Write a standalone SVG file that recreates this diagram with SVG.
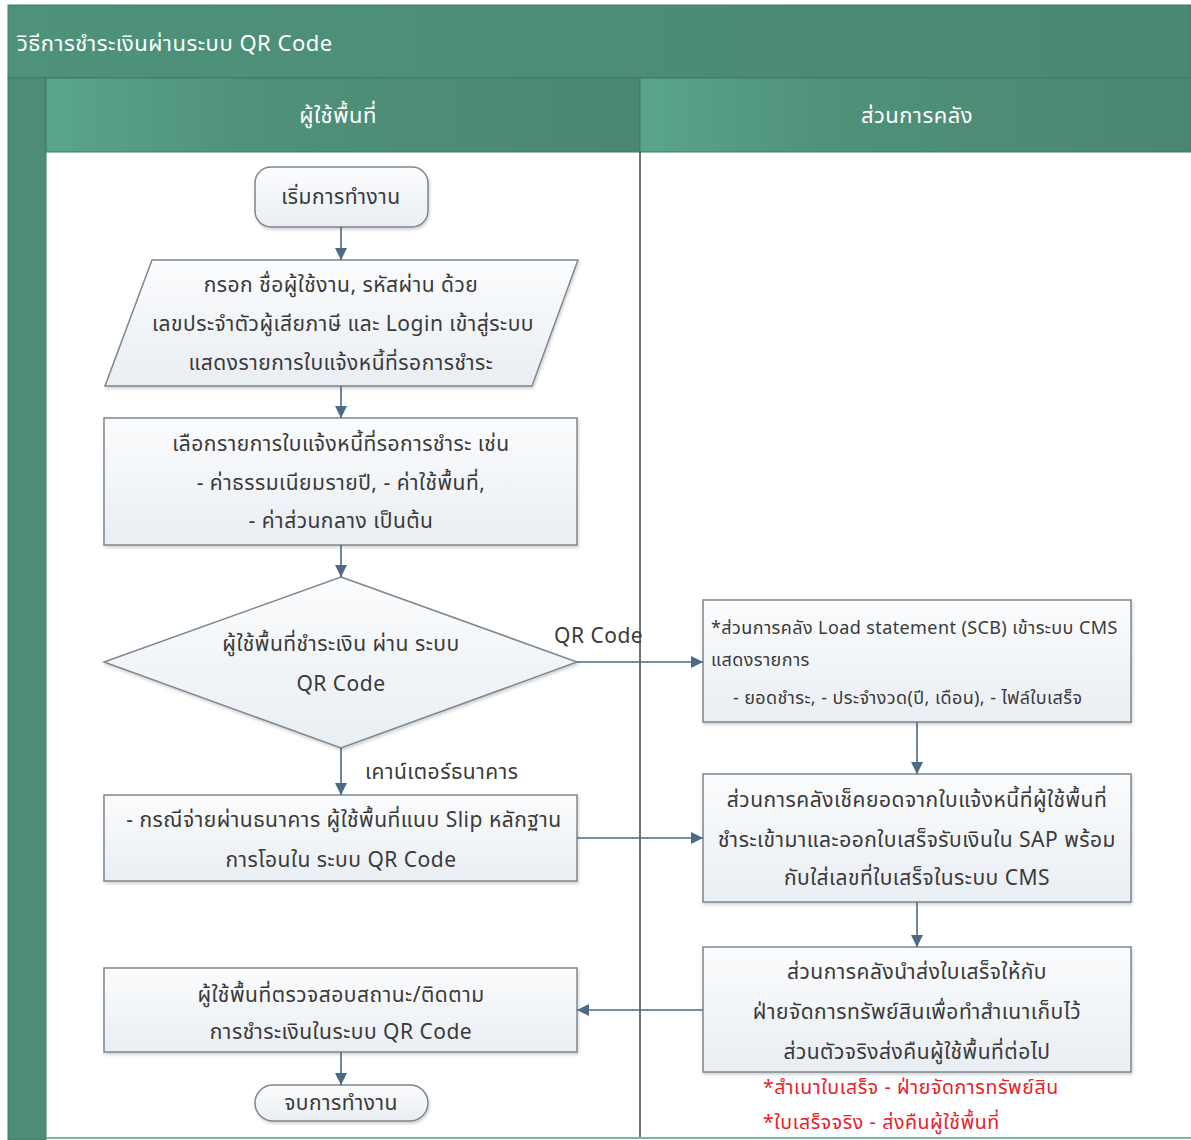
<svg xmlns="http://www.w3.org/2000/svg" width="1191" height="1140" viewBox="0 0 1191 1140">
<defs>
  <linearGradient id="hdr" x1="0" y1="0" x2="1" y2="0">
    <stop offset="0" stop-color="#5aa58b"/>
    <stop offset="0.35" stop-color="#4f9179"/>
    <stop offset="1" stop-color="#4a8771"/>
  </linearGradient>
  <linearGradient id="title" x1="0" y1="0" x2="1" y2="0">
    <stop offset="0" stop-color="#4e927a"/>
    <stop offset="1" stop-color="#4a8872"/>
  </linearGradient>
  <linearGradient id="nodefill" x1="0" y1="0" x2="0" y2="1">
    <stop offset="0" stop-color="#fbfcfd"/>
    <stop offset="1" stop-color="#e9eef3"/>
  </linearGradient>
  <filter id="sh" x="-5%" y="-5%" width="110%" height="115%">
    <feDropShadow dx="1" dy="2" stdDeviation="1.5" flood-color="#000" flood-opacity="0.18"/>
  </filter>
  <marker id="arr" viewBox="0 0 10 10" refX="10" refY="5" markerWidth="12" markerHeight="12" markerUnits="userSpaceOnUse" orient="auto">
    <path d="M0,0 L10,5 L0,10 z" fill="#4a6a85"/>
  </marker>
</defs>
<style>
  .t { font-family: "Noto Sans Thai", "Leelawadee UI", Tahoma, "Noto Sans", "DejaVu Sans", sans-serif; font-size: 21px; letter-spacing: 0.5px; fill: #3a3a3a; }
  .c { text-anchor: middle; }
  .w { fill: #ffffff; font-size: 22px; }
  .s { font-size: 18px; letter-spacing: 0.4px; }
  .red { fill: #e8202a; font-size: 19.5px; letter-spacing: 0.6px; }
  .node { fill: url(#nodefill); stroke: #7c8790; stroke-width: 1.5; filter: url(#sh); }
  .con { stroke: #4a6a85; stroke-width: 1.6; fill: none; marker-end: url(#arr); }
</style>

<g id="pool">
  <rect x="0" y="0" width="1191" height="1140" fill="#ffffff"/>
  <rect x="8" y="5" width="1183" height="73" fill="url(#title)" stroke="#3f7a65" stroke-width="1"/>
  <text class="t w" x="17" y="51">วิธีการชำระเงินผ่านระบบ QR Code</text>
  <rect x="8" y="78" width="38" height="1062" fill="#4d8c76" stroke="#3f7a65" stroke-width="1"/>
  <rect x="46" y="78" width="594" height="74" fill="url(#hdr)" stroke="#3f7a65" stroke-width="1"/>
  <rect x="640" y="78" width="551" height="74" fill="url(#hdr)" stroke="#3f7a65" stroke-width="1"/>
  <text class="t w c" x="338" y="123">ผู้ใช้พื้นที่</text>
  <text class="t w c" x="917" y="123">ส่วนการคลัง</text>
  <line x1="640" y1="152" x2="640" y2="1138" stroke="#3b4a44" stroke-width="1.5"/>
  <line x1="46" y1="1138" x2="1191" y2="1138" stroke="#7fb3a1" stroke-width="2"/>
</g>

<g id="start">
  <rect class="node" x="255" y="167" width="173" height="60" rx="16"/>
  <text class="t c" x="341" y="204">เริ่มการทำงาน</text>
</g>

<g id="login">
  <polygon class="node" points="152,260 578,260 532,386 105,386"/>
  <text class="t c" x="341" y="292">กรอก ชื่อผู้ใช้งาน, รหัสผ่าน ด้วย</text>
  <text class="t c" x="343" y="331">เลขประจำตัวผู้เสียภาษี และ Login เข้าสู่ระบบ</text>
  <text class="t c" x="341" y="370">แสดงรายการใบแจ้งหนี้ที่รอการชำระ</text>
</g>

<g id="select">
  <rect class="node" x="104" y="418" width="473" height="127"/>
  <text class="t c" x="341" y="451">เลือกรายการใบแจ้งหนี้ที่รอการชำระ เช่น</text>
  <text class="t c" x="341" y="490">- ค่าธรรมเนียมรายปี, - ค่าใช้พื้นที่,</text>
  <text class="t c" x="341" y="528">- ค่าส่วนกลาง เป็นต้น</text>
</g>

<g id="decision">
  <polygon class="node" points="341,577 577,662 341,748 104,662"/>
  <text class="t c" x="341" y="651">ผู้ใช้พื้นที่ชำระเงิน ผ่าน ระบบ</text>
  <text class="t c" x="341" y="691">QR Code</text>
</g>

<g id="bank">
  <rect class="node" x="104" y="795" width="473" height="86"/>
  <text class="t c" x="344" y="827">- กรณีจ่ายผ่านธนาคาร ผู้ใช้พื้นที่แนบ Slip หลักฐาน</text>
  <text class="t c" x="341" y="867">การโอนใน ระบบ QR Code</text>
</g>

<g id="check">
  <rect class="node" x="104" y="968" width="473" height="84"/>
  <text class="t c" x="341" y="1002">ผู้ใช้พื้นที่ตรวจสอบสถานะ/ติดตาม</text>
  <text class="t c" x="341" y="1039">การชำระเงินในระบบ QR Code</text>
</g>

<g id="end">
  <rect class="node" x="255" y="1085" width="173" height="36" rx="18"/>
  <text class="t c" x="341" y="1110">จบการทำงาน</text>
</g>

<g id="load">
  <rect class="node" x="703" y="600" width="428" height="122"/>
  <text class="t s" x="711" y="634">*ส่วนการคลัง Load statement (SCB) เข้าระบบ CMS</text>
  <text class="t s" x="711" y="666">แสดงรายการ</text>
  <text class="t s" x="733" y="704">- ยอดชำระ, - ประจำงวด(ปี, เดือน), - ไฟล์ใบเสร็จ</text>
</g>

<g id="verify">
  <rect class="node" x="703" y="774" width="428" height="128"/>
  <text class="t c" x="917" y="807">ส่วนการคลังเช็คยอดจากใบแจ้งหนี้ที่ผู้ใช้พื้นที่</text>
  <text class="t c" x="917" y="847">ชำระเข้ามาและออกใบเสร็จรับเงินใน SAP พร้อม</text>
  <text class="t c" x="917" y="885">กับใส่เลขที่ใบเสร็จในระบบ CMS</text>
</g>

<g id="send">
  <rect class="node" x="703" y="947" width="428" height="125"/>
  <text class="t c" x="917" y="979">ส่วนการคลังนำส่งใบเสร็จให้กับ</text>
  <text class="t c" x="917" y="1019">ฝ่ายจัดการทรัพย์สินเพื่อทำสำเนาเก็บไว้</text>
  <text class="t c" x="917" y="1059">ส่วนตัวจริงส่งคืนผู้ใช้พื้นที่ต่อไป</text>
</g>

<g id="note">
  <text class="t red" x="763" y="1094">*สำเนาใบเสร็จ - ฝ่ายจัดการทรัพย์สิน</text>
  <text class="t red" x="763" y="1129">*ใบเสร็จจริง - ส่งคืนผู้ใช้พื้นที่</text>
</g>

<g id="connectors">
  <line class="con" x1="341" y1="227" x2="341" y2="260"/>
  <line class="con" x1="341" y1="386" x2="341" y2="418"/>
  <line class="con" x1="341" y1="545" x2="341" y2="577"/>
  <line class="con" x1="577" y1="662" x2="703" y2="662"/>
  <line class="con" x1="341" y1="748" x2="341" y2="795"/>
  <line class="con" x1="577" y1="838" x2="703" y2="838"/>
  <line class="con" x1="917" y1="722" x2="917" y2="774"/>
  <line class="con" x1="917" y1="902" x2="917" y2="947"/>
  <line class="con" x1="703" y1="1010" x2="577" y2="1010"/>
  <line class="con" x1="341" y1="1052" x2="341" y2="1085"/>
  <text class="t" x="554" y="643">QR Code</text>
  <text class="t" x="365" y="779">เคาน์เตอร์ธนาคาร</text>
</g>
</svg>
